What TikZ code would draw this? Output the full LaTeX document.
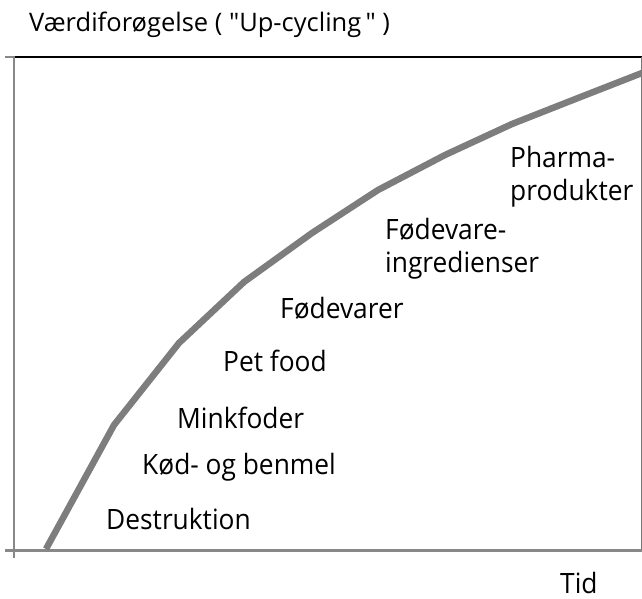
\documentclass[tikz,border=0pt]{standalone}
\usepackage{fontspec}
\setmainfont{Open Sans}
\newfontfamily\lblfont[FakeStretch=0.94]{Open Sans}
\newfontfamily\ttlfont{Open Sans}
\definecolor{axisgray}{RGB}{136,136,136}
\definecolor{curvegray}{RGB}{125,125,125}
\definecolor{framegray}{RGB}{120,120,120}
\begin{document}
\begin{tikzpicture}[x=1pt,y=-1pt,
  lbl/.style={anchor=base west,inner sep=0pt,font=\lblfont\fontsize{28}{33}\selectfont,align=left},
  ttl/.style={anchor=base west,inner sep=0pt,font=\ttlfont\fontsize{25.5}{30}\selectfont},
  axisline/.style={draw=axisgray,line width=2.2pt},
  curveline/.style={draw=curvegray,line width=6.5pt}]
\useasboundingbox (0,0) rectangle (642,599);
% frame
\draw[black,line width=2pt] (14,57) -- (642,57);
\draw[framegray,line width=1pt] (641,57) -- (641,552);
% axes
\draw[axisline] (14,56) -- (14,558);
\draw[axisline] (5,57) -- (14,57);
\draw[axisline,line width=3pt] (5,550) -- (642,550);
% curve
\draw[curveline,line join=round] (46,549) -- (114,425) -- (179,343) -- (244,282) -- (312,233) -- (378,190) -- (445,155) -- (512,124) -- (578,98) -- (642,73);
% labels
\node[ttl] (title) at (29,32) {Værdiforøgelse ( "Up-cycling\," )};
\node[lbl] (pharma) at (510,200) {Pharma-\\produkter};
\node[lbl] (ingr) at (385,272) {Fødevare-\\ingredienser};
\node[lbl] (foed) at (280,318) {Fødevarer};
\node[lbl] (pet) at (223,371) {Pet food};
\node[lbl] (mink) at (177,428) {Minkfoder};
\node[lbl] (kod) at (142,474) {Kød- og benmel};
\node[lbl] (destr) at (106,529) {Destruktion};
\node[lbl] (tid) at (560,593) {Tid};
\end{tikzpicture}
\end{document}
